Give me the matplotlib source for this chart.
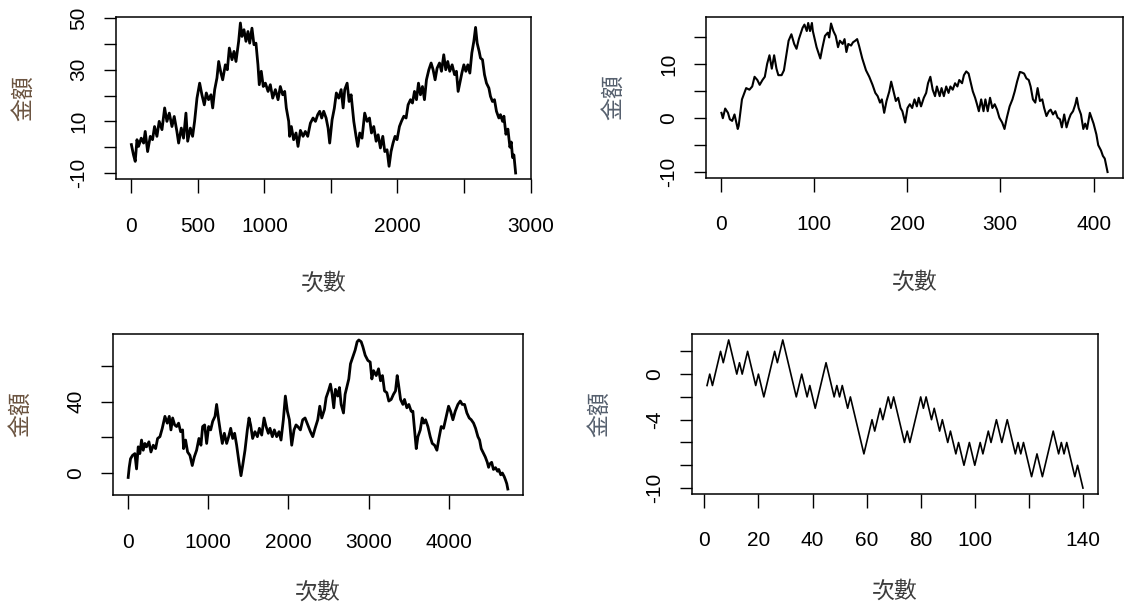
import matplotlib
matplotlib.use("Agg")
import matplotlib.pyplot as plt

plt.rcParams['font.family'] = ['Liberation Sans', 'Noto Sans CJK TC']

# ---- data (turning points of each walk) ----
tl_x = [1, 17, 30, 43, 55, 75, 93, 105, 123, 143, 160, 175, 193, 210, 231, 251, 268, 286, 306, 323,
        343, 356, 376, 393, 411, 424, 444, 461, 476, 494, 514, 531, 549, 564, 581, 599, 612, 627, 644, 657,
        674, 687, 707, 722, 737, 757, 772, 787, 807, 820, 832, 847, 862, 877, 890, 907, 922, 937, 952, 962,
        977, 992, 1008, 1028, 1045, 1063, 1083, 1103, 1120, 1138, 1153, 1165, 1183, 1190, 1203, 1220, 1238, 1253, 1271, 1291,
        1308, 1326, 1346, 1366, 1384, 1401, 1416, 1431, 1446, 1464, 1479, 1491, 1509, 1526, 1541, 1559, 1577, 1592, 1604, 1622,
        1637, 1652, 1672, 1689, 1702, 1717, 1734, 1754, 1772, 1790, 1805, 1822, 1840, 1855, 1872, 1890, 1905, 1922, 1937, 1952,
        1967, 1982, 1997, 2015, 2030, 2048, 2065, 2080, 2098, 2113, 2128, 2143, 2158, 2173, 2188, 2203, 2218, 2236, 2253, 2268,
        2283, 2298, 2316, 2331, 2348, 2363, 2378, 2393, 2411, 2429, 2443, 2456, 2469, 2484, 2499, 2514, 2529, 2544, 2559, 2574,
        2587, 2599, 2614, 2624, 2639, 2654, 2669, 2687, 2699, 2714, 2729, 2744, 2762, 2774, 2790, 2800, 2815, 2830, 2845, 2855,
        2865, 2875, 2888]
tl_y = [1, -3, -5.5, 2.9, 0.3, 3.5, 1.6, 6.1, -1.7, 4.2, 2.9, 8, 4.2, 10, 6.8, 15.2, 10, 13.2, 8, 11.9,
        6.1, 1.6, 7.4, 3.5, 13.2, 2.3, 7.4, 4.2, 10, 19, 24.8, 20.3, 16.4, 21, 18.4, 20.3, 15.2, 22.3, 26.8, 33.2,
        28.7, 26.1, 31.9, 30, 38.4, 33.9, 37.1, 33.2, 41, 48.1, 42.9, 45.5, 41, 44.8, 40.3, 46.1, 39.7, 40.3, 31.9, 24.2,
        29.4, 23.5, 24.8, 21.6, 24.2, 19, 22.3, 18.4, 23.5, 20.3, 21.6, 15.2, 10, 4.2, 8, 2.9, 5.5, 0.3, 6.5, 4.2,
        6.1, 4.2, 9.3, 11.3, 10, 12.6, 13.9, 11.3, 13.9, 11.3, 7.4, 1.6, 10.6, 15.1, 21, 19, 22.3, 15.2, 22.3, 24.8,
        17.7, 20.3, 10, 4.2, 0.3, 5.5, 3.5, 13.2, 10, 11.3, 5.5, 8, 2.3, 4.8, -0.3, 4.2, -1.7, -1, -7.4, -1.7,
        1.6, 4.2, 2.9, 8, 10, 12, 11.3, 16.4, 18.4, 17.1, 21.6, 18.4, 24.8, 20.3, 23.5, 18.4, 26.1, 30, 32.6, 30,
        26.1, 30.6, 32.6, 29.4, 35.8, 30, 33.2, 29.4, 31.9, 28.1, 29.4, 21.6, 24.8, 28.7, 31.9, 29.4, 31.9, 28.7, 36.5, 41,
        46.4, 40.3, 37.1, 34.5, 33.9, 28.1, 24.8, 22.9, 19.7, 17.7, 18.4, 13.9, 11.3, 12.6, 10, 12, 5, 7, 0, 2,
        -4, -3, -10]

tr_x = [1, 2.5, 5, 8, 10, 12.5, 15, 18.5, 19.5, 23, 27.5, 31, 34, 36.5, 39.5, 42, 45, 47.5, 50, 52.5,
        55, 57.5, 60, 62, 65.5, 68, 73, 76, 79, 81.5, 84, 88, 90, 92.5, 94, 96, 98, 99, 103, 107,
        109, 112, 115, 116.5, 118.5, 121, 123.5, 126, 128, 131, 133, 135, 137, 140, 142, 144.5, 146.5, 148.5, 152, 156,
        159.5, 163, 166, 168.5, 171, 173, 175.5, 178, 181, 183, 185.5, 188, 190.5, 193, 195, 198, 200.5, 203, 205.5, 208,
        210.5, 212.5, 215, 218, 220.5, 222.5, 225, 227.5, 230, 232, 235, 237, 239.5, 242, 244.5, 246.5, 249, 251.5, 254, 256,
        259, 261, 263.5, 266, 268, 270.5, 273, 275, 277, 279.5, 282, 284, 286.5, 289, 291.5, 294, 296.5, 299, 302, 304.5,
        307, 310, 313, 315.5, 318, 321, 323, 325.5, 328, 330.5, 332.5, 335, 337.5, 340, 342.5, 345, 347, 349.5, 352, 354,
        356.5, 359, 361.5, 364, 366, 368.5, 371, 373.5, 375.5, 378, 380.5, 382, 384, 386.5, 389, 391, 393, 396, 398, 400,
        403, 405, 408, 410, 412, 415]
tr_y = [1, 0, 1.8, 1, -0.2, -0.5, 0.7, -2, -1.4, 3.5, 5.6, 5.3, 5.9, 7.7, 7.1, 6.2, 7.1, 7.7, 10.1, 11.7,
        9.2, 11.7, 9.2, 8, 8, 8.9, 14.4, 15.6, 13.8, 12.9, 14.7, 16.8, 17.4, 16.2, 17.7, 16.2, 17.7, 16.2, 13.2, 11.1,
        12.9, 15.3, 15.9, 15, 17.6, 16.2, 15.3, 13.2, 14.4, 13.8, 14.7, 12.3, 13.8, 13.5, 14.1, 14.4, 14.7, 13.5, 11.1, 8.9,
        7.7, 6.2, 4.7, 4.1, 2.9, 3.5, 1, 3.2, 5, 6.8, 5, 3.2, 3.8, 1.9, 1.3, -0.8, 1.9, 2.6, 1.9, 3.5,
        2.2, 3.8, 2.2, 3.8, 4.7, 6.5, 7.7, 5.3, 4.1, 5.9, 4.1, 5.6, 4.1, 5.9, 4.7, 5.9, 5.3, 6.5, 5.9, 7.1,
        6.5, 8, 8.7, 8.3, 6.8, 5, 3.8, 2.6, 1.3, 3.5, 1.3, 3.5, 1.3, 3.8, 1.9, 2.6, 1.6, 0.1, -0.8, -2,
        0.1, 2.2, 3.5, 5, 6.8, 8.6, 8.5, 8.3, 7.4, 7.1, 5.9, 3.5, 2.9, 5.6, 3.2, 3.5, 1.9, 0.4, 1.3, 1.6,
        0.7, 1.3, 0.1, -0.2, -1.7, 0.7, -1.7, -0.2, 0.7, 1.3, 2.6, 3.8, 1.9, 0.7, -2, -1, -2, 1, 0, -1,
        -3, -5, -6, -7, -7.5, -10]

bl_x = [6, 19, 35, 60, 89, 110, 131, 151, 172, 193, 214, 234, 264, 289, 318, 347, 372, 401, 430, 463,
        492, 517, 538, 559, 584, 608, 633, 658, 683, 695, 720, 745, 774, 803, 828, 857, 886, 911, 932, 957,
        982, 1007, 1032, 1057, 1086, 1106, 1131, 1156, 1177, 1202, 1231, 1256, 1281, 1306, 1330, 1355, 1384, 1409, 1430, 1459,
        1488, 1509, 1529, 1554, 1583, 1613, 1638, 1667, 1696, 1721, 1749, 1770, 1799, 1824, 1853, 1882, 1907, 1936, 1961, 1986,
        2011, 2040, 2069, 2094, 2115, 2148, 2177, 2206, 2240, 2273, 2302, 2331, 2364, 2389, 2414, 2447, 2468, 2497, 2522, 2543,
        2563, 2584, 2613, 2634, 2655, 2684, 2704, 2729, 2750, 2771, 2800, 2829, 2854, 2875, 2904, 2925, 2954, 2987, 3016, 3037,
        3058, 3091, 3120, 3145, 3169, 3194, 3223, 3248, 3277, 3306, 3331, 3352, 3368, 3394, 3423, 3443, 3472, 3497, 3526, 3547,
        3568, 3589, 3610, 3639, 3663, 3684, 3705, 3734, 3763, 3788, 3817, 3846, 3871, 3900, 3929, 3962, 3991, 4016, 4045, 4074,
        4107, 4137, 4161, 4190, 4219, 4248, 4273, 4302, 4327, 4356, 4377, 4397, 4418, 4448, 4472, 4489, 4502, 4527, 4549, 4575,
        4600, 4616, 4640, 4660, 4683, 4700, 4715, 4728]
bl_y = [-2.5, 3.2, 8, 9.9, 10.9, 2.3, 14.7, 10.9, 18.5, 12.8, 16.6, 14.7, 17.5, 11.8, 15.6, 13.7, 19.4, 20.4, 25.1, 31.8,
        28, 31.8, 24.2, 30.9, 27, 26.1, 28, 23.2, 24.2, 13.7, 18.5, 11.8, 9.9, 4.2, 9, 12.8, 19.4, 15.6, 26.1, 27,
        16.6, 26.1, 24.2, 29, 31.8, 38.5, 29.9, 22.3, 16.6, 22.3, 16.6, 20.4, 25.1, 19.4, 22.3, 15.6, 6.1, -1.5, 4.2, 12.8,
        24.2, 30.9, 27, 19.4, 23.2, 20.4, 25.1, 21.3, 30.9, 26.1, 22.3, 25.1, 20.4, 24.2, 20.4, 23.2, 18.5, 29.9, 43.2, 34.7,
        29.9, 15.6, 24.2, 27, 26.1, 24.2, 29.9, 30.9, 27, 23.2, 20.4, 25.1, 29.9, 37.5, 30.9, 35.6, 42.3, 46.1, 49.9, 44.2,
        36.6, 47, 43.2, 48, 38.5, 33.7, 44.2, 49, 52.8, 61.3, 65.1, 69, 73.7, 74.7, 73.7, 70.9, 66.1, 63.2, 62.3, 52.8,
        57.5, 54.7, 58.5, 51.8, 54.7, 46.1, 45.1, 40.4, 41.3, 44.2, 46.1, 54.7, 49.9, 41.3, 38.5, 41.3, 36.6, 38.5, 34.7, 34.7,
        24.2, 13.7, 20.4, 24.2, 30.9, 28, 29.9, 26.1, 20.4, 16.6, 15.6, 12.8, 19.4, 26.1, 25.1, 31.8, 37.5, 34.7, 29.9, 34.7,
        38.5, 40.4, 38.5, 38.5, 33.7, 30.9, 29.9, 28, 25.1, 20.4, 18.5, 13.7, 11.8, 9, 6.1, 3.2, 5, 6, 2, 3,
        1, 2, -1, 0, -2, -4, -6, -9]

br_x = [1, 2, 3, 6, 7, 9, 12, 13, 14, 16, 19, 20, 22, 26, 27, 29, 34, 36, 38, 39,
        41, 45, 48, 49, 50, 51, 53, 54, 59, 62, 63, 65, 66, 68, 69, 70, 74, 75, 76, 80,
        81, 82, 84, 85, 87, 88, 90, 91, 93, 94, 96, 98, 100, 102, 103, 105, 106, 108, 110, 112,
        115, 116, 117, 118, 121, 123, 125, 129, 131, 132, 133, 134, 137, 138, 140]
br_y = [-1, 0, -1, 2, 1, 3, 0, 1, 0, 2, -1, 0, -2, 2, 1, 3, -2, 0, -2, -1,
        -3, 1, -2, -1, -2, -1, -3, -2, -7, -4, -5, -3, -4, -2, -3, -2, -6, -5, -6, -2,
        -3, -2, -4, -3, -5, -4, -6, -5, -7, -6, -8, -6, -8, -6, -7, -5, -6, -4, -6, -4,
        -7, -6, -7, -6, -9, -7, -9, -5, -7, -6, -7, -6, -9, -8, -10]

# axis ticks and which labels R kept
tl_xticks = [0, 500, 1000, 1500, 2000, 2500, 3000]
tl_xlabels = ['0', '500', '1000', '', '2000', '', '3000']
tl_yticks = [-10, 0, 10, 20, 30, 40, 50]
tl_ylabels = ['-10', '', '10', '', '30', '', '50']
tr_xticks = [0, 100, 200, 300, 400]
tr_xlabels = ['0', '100', '200', '300', '400']
tr_yticks = [-10, -5, 0, 5, 10, 15]
tr_ylabels = ['-10', '', '0', '', '10', '']
bl_xticks = [0, 1000, 2000, 3000, 4000]
bl_xlabels = ['0', '1000', '2000', '3000', '4000']
bl_yticks = [0, 20, 40, 60]
bl_ylabels = ['0', '', '40', '']
br_xticks = [0, 20, 40, 60, 80, 100, 120, 140]
br_xlabels = ['0', '20', '40', '60', '80', '100', '', '140']
br_yticks = [-10, -8, -6, -4, -2, 0, 2]
br_ylabels = ['-10', '', '', '-4', '', '0', '']

W, H = 1127, 609
fig = plt.figure(figsize=(W / 100, H / 100), dpi=100)

# panel boxes in pixels: left, top, right, bottom, and xlabel offset below box
boxes = {
    'tl': (116, 17, 531, 179, 104),
    'tr': (706, 17, 1123, 178, 104),
    'bl': (113, 334, 523, 495, 97),
    'br': (692, 334, 1098, 494, 97),
}

panels = [
    ('tl', tl_x, tl_y, tl_xticks, tl_xlabels, tl_yticks, tl_ylabels, 2.0, '#6b5440'),
    ('tr', tr_x, tr_y, tr_xticks, tr_xlabels, tr_yticks, tr_ylabels, 1.5, '#56606e'),
    ('bl', bl_x, bl_y, bl_xticks, bl_xlabels, bl_yticks, bl_ylabels, 2.0, '#6b5440'),
    ('br', br_x, br_y, br_xticks, br_xlabels, br_yticks, br_ylabels, 1.2, '#56606e'),
]

for key, xs, ys, xt, xl, yt, yl, lw, ycol in panels:
    l, t, r, b, xoff = boxes[key]
    ax = fig.add_axes([l / W, 1 - b / H, (r - l) / W, (b - t) / H])
    ax.plot(xs, ys, color='black', lw=lw)
    # R style 4% extension of the data range
    xr = max(xs) - min(xs)
    yr = max(ys) - min(ys)
    ax.set_xlim(min(xs) - 0.04 * xr, max(xs) + 0.04 * xr)
    ax.set_ylim(min(ys) - 0.04 * yr, max(ys) + 0.04 * yr)
    ax.set_xticks(xt)
    ax.set_xticklabels(xl)
    ax.set_yticks(yt)
    ax.set_yticklabels(yl, rotation=90, va='center')
    ax.tick_params(axis='x', length=10, width=1.0, pad=17, labelsize=15)
    ax.tick_params(axis='y', length=9, width=1.0, pad=11, labelsize=15)
    for s in ax.spines.values():
        s.set_linewidth(1.1)
    ax.set_xlabel('次數', family=['Noto Sans CJK TC'], fontsize=16.5, color='#3c3c3c')
    ax.xaxis.set_label_coords(0.5, -(xoff / (b - t)))
    ax.xaxis.label.set_va('center')
    ax.set_ylabel('金額', family=['Noto Sans CJK TC'], fontsize=16.5, color=ycol)
    ax.yaxis.set_label_coords(-(92 / (r - l)), 0.5)
    ax.yaxis.label.set_va('center')

fig.savefig('out.png', dpi=100)
